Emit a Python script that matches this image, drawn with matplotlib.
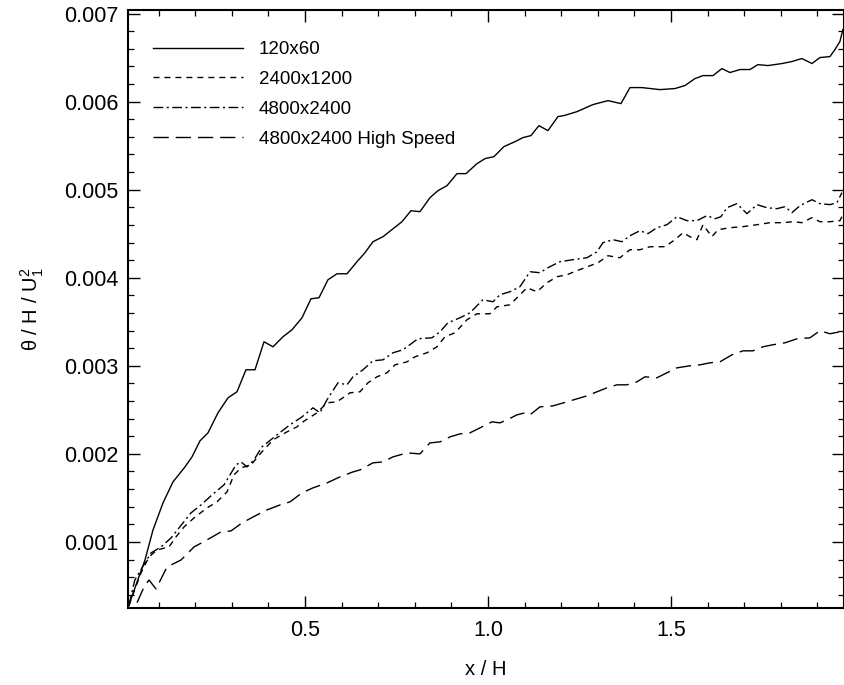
import matplotlib
matplotlib.use("Agg")
import matplotlib.pyplot as plt
from matplotlib.ticker import MultipleLocator, FixedLocator, FormatStrFormatter

plt.rcParams['font.family'] = ['Liberation Sans', 'DejaVu Sans']
plt.rcParams['mathtext.fontset'] = 'custom'
plt.rcParams['mathtext.rm'] = 'Liberation Sans'
plt.rcParams['mathtext.it'] = 'Liberation Sans:italic'

# ---- data ----
x_120 = [0.0172, 0.0402, 0.0628, 0.0847, 0.1120, 0.1393, 0.1721, 0.1913, 0.2131, 0.2350,
         0.2623, 0.2896, 0.3142, 0.3388, 0.3634, 0.3880, 0.4126, 0.4399, 0.4645, 0.4918,
         0.5164, 0.5383, 0.5628, 0.5874, 0.6148, 0.6421, 0.6639, 0.6858, 0.7131, 0.7650,
         0.7896, 0.8142, 0.8415, 0.8634, 0.8880, 0.9153, 0.9399, 0.9699, 0.9918, 1.0164,
         1.0437, 1.0738, 1.0956, 1.1175, 1.1393, 1.1639, 1.1913, 1.2077, 1.2432, 1.2869,
         1.3279, 1.3634, 1.3880, 1.4208, 1.4699, 1.5109, 1.5383, 1.5656, 1.5874, 1.6148,
         1.6393, 1.6612, 1.6885, 1.7158, 1.7377, 1.7650, 1.8033, 1.8306, 1.8579, 1.8852,
         1.9071, 1.9344, 1.9481, 1.9617, 1.9699]
y_120 = [0.000265, 0.000534, 0.000795, 0.001136, 0.001443, 0.001682, 0.001852, 0.001966, 0.002148, 0.002239,
         0.002466, 0.002636, 0.002705, 0.002955, 0.002955, 0.003273, 0.003216, 0.003330, 0.003409, 0.003545,
         0.003761, 0.003773, 0.003977, 0.004045, 0.004045, 0.004182, 0.004284, 0.004409, 0.004466, 0.004636,
         0.004761, 0.004750, 0.004909, 0.004989, 0.005045, 0.005182, 0.005182, 0.005295, 0.005352, 0.005375,
         0.005489, 0.005545, 0.005591, 0.005614, 0.005727, 0.005670, 0.005830, 0.005841, 0.005886, 0.005966,
         0.006011, 0.005977, 0.006159, 0.006159, 0.006136, 0.006148, 0.006182, 0.006261, 0.006295, 0.006295,
         0.006375, 0.006330, 0.006364, 0.006364, 0.006420, 0.006409, 0.006432, 0.006455, 0.006489, 0.006432,
         0.006500, 0.006511, 0.006591, 0.006682, 0.006818]

x_2400 = [0.0191, 0.0273, 0.0519, 0.0738, 0.0956, 0.1284, 0.1475, 0.1694, 0.1967, 0.2322,
          0.2596, 0.2869, 0.3060, 0.3251, 0.3525, 0.3798, 0.4126, 0.4508, 0.4781, 0.4945,
          0.5328, 0.5601, 0.5874, 0.6230, 0.6503, 0.6721, 0.6967, 0.7240, 0.7459, 0.7787,
          0.8005, 0.8333, 0.8607, 0.8825, 0.9098, 0.9426, 0.9699, 1.0055, 1.0246, 1.0601,
          1.0820, 1.1066, 1.1339, 1.1612, 1.1885, 1.2158, 1.2432, 1.2787, 1.3005, 1.3279,
          1.3607, 1.3880, 1.4153, 1.4426, 1.4836, 1.5109, 1.5328, 1.5519, 1.5710, 1.5874,
          1.6120, 1.6284, 1.6612, 1.6967, 1.7350, 1.7705, 1.8060, 1.8333, 1.8579, 1.8852,
          1.9071, 1.9344, 1.9617, 1.9699]
y_2400 = [0.000273, 0.000375, 0.000648, 0.000830, 0.000909, 0.000943, 0.001057, 0.001170, 0.001273, 0.001386,
          0.001455, 0.001568, 0.001761, 0.001841, 0.001875, 0.002011, 0.002159, 0.002250, 0.002307, 0.002364,
          0.002466, 0.002580, 0.002591, 0.002693, 0.002705, 0.002807, 0.002875, 0.002920, 0.003011, 0.003045,
          0.003102, 0.003148, 0.003216, 0.003330, 0.003375, 0.003523, 0.003591, 0.003591, 0.003670, 0.003693,
          0.003784, 0.003886, 0.003841, 0.003943, 0.004011, 0.004034, 0.004080, 0.004136, 0.004170, 0.004250,
          0.004227, 0.004318, 0.004318, 0.004352, 0.004352, 0.004432, 0.004511, 0.004466, 0.004432, 0.004602,
          0.004466, 0.004545, 0.004568, 0.004580, 0.004602, 0.004625, 0.004625, 0.004636, 0.004625, 0.004682,
          0.004636, 0.004636, 0.004648, 0.004716]

x_4800 = [0.0191, 0.0350, 0.0546, 0.0792, 0.1066, 0.1339, 0.1557, 0.1885, 0.2158, 0.2459,
          0.2787, 0.3115, 0.3251, 0.3415, 0.3607, 0.3825, 0.4235, 0.4590, 0.4918, 0.5219,
          0.5410, 0.5601, 0.5902, 0.6148, 0.6311, 0.6585, 0.6858, 0.7131, 0.7404, 0.7678,
          0.8087, 0.8470, 0.8689, 0.8907, 0.9235, 0.9508, 0.9863, 1.0137, 1.0328, 1.0601,
          1.0874, 1.1148, 1.1421, 1.1639, 1.1967, 1.2322, 1.2705, 1.2978, 1.3142, 1.3415,
          1.3661, 1.3880, 1.4153, 1.4372, 1.4617, 1.4891, 1.5164, 1.5437, 1.5710, 1.5984,
          1.6202, 1.6366, 1.6530, 1.6803, 1.7077, 1.7350, 1.7623, 1.7896, 1.8115, 1.8306,
          1.8525, 1.8852, 1.9071, 1.9344, 1.9536, 1.9672]
y_4800 = [0.000284, 0.000568, 0.000705, 0.000875, 0.000943, 0.001045, 0.001159, 0.001330, 0.001420, 0.001534,
          0.001648, 0.001875, 0.001909, 0.001852, 0.001932, 0.002080, 0.002216, 0.002330, 0.002420, 0.002523,
          0.002466, 0.002614, 0.002807, 0.002784, 0.002875, 0.002955, 0.003057, 0.003068, 0.003148, 0.003182,
          0.003307, 0.003318, 0.003386, 0.003489, 0.003545, 0.003602, 0.003750, 0.003727, 0.003807, 0.003841,
          0.003898, 0.004068, 0.004057, 0.004114, 0.004182, 0.004205, 0.004227, 0.004295, 0.004398, 0.004432,
          0.004409, 0.004477, 0.004534, 0.004500, 0.004568, 0.004602, 0.004693, 0.004648, 0.004648, 0.004705,
          0.004670, 0.004693, 0.004795, 0.004841, 0.004727, 0.004830, 0.004795, 0.004784, 0.004807, 0.004739,
          0.004818, 0.004886, 0.004841, 0.004830, 0.004852, 0.004966]

x_hs = [0.0164, 0.0383, 0.0601, 0.0738, 0.0929, 0.1230, 0.1612, 0.1967, 0.2322, 0.2705,
        0.2978, 0.3279, 0.3689, 0.3962, 0.4317, 0.4590, 0.4918, 0.5219, 0.5601, 0.5956,
        0.6311, 0.6503, 0.6858, 0.7131, 0.7404, 0.7787, 0.8142, 0.8415, 0.8689, 0.8962,
        0.9235, 0.9508, 0.9781, 1.0109, 1.0328, 1.0519, 1.0792, 1.1011, 1.1148, 1.1421,
        1.1776, 1.2158, 1.2432, 1.2705, 1.2978, 1.3251, 1.3525, 1.3798, 1.4071, 1.4290,
        1.4617, 1.4781, 1.5164, 1.5519, 1.5792, 1.6066, 1.6339, 1.6667, 1.6967, 1.7240,
        1.7514, 1.7787, 1.8115, 1.8443, 1.8798, 1.9071, 1.9344, 1.9617, 1.9699]
y_hs = [0.000080, 0.000284, 0.000489, 0.000568, 0.000466, 0.000716, 0.000795, 0.000943, 0.001023, 0.001114,
        0.001125, 0.001216, 0.001307, 0.001364, 0.001420, 0.001455, 0.001557, 0.001614, 0.001670, 0.001739,
        0.001795, 0.001818, 0.001898, 0.001909, 0.001966, 0.002011, 0.002000, 0.002125, 0.002136, 0.002193,
        0.002227, 0.002239, 0.002295, 0.002364, 0.002352, 0.002386, 0.002443, 0.002466, 0.002443, 0.002534,
        0.002545, 0.002591, 0.002625, 0.002659, 0.002705, 0.002750, 0.002784, 0.002784, 0.002818, 0.002875,
        0.002864, 0.002898, 0.002977, 0.003000, 0.003011, 0.003034, 0.003045, 0.003125, 0.003170, 0.003170,
        0.003216, 0.003239, 0.003261, 0.003307, 0.003318, 0.003398, 0.003364, 0.003386, 0.003409]

labels = ["120x60", "2400x1200", "4800x2400", "4800x2400 High Speed"]
x_ticks = [0.5, 1.0, 1.5]
y_ticks = [0.001, 0.002, 0.003, 0.004, 0.005, 0.006, 0.007]

# ---- figure ----
W, H = 844, 685
fig = plt.figure(figsize=(W / 100, H / 100), dpi=100)
ax = fig.add_axes([128 / W, (H - 608) / H, (843.5 - 128) / W, (608 - 10) / H])

lw = 1.0
ax.plot(x_120, y_120, color='black', lw=lw, linestyle='-', label=labels[0])
ax.plot(x_2400, y_2400, color='black', lw=lw, linestyle=(0, (4.3, 3.6)), label=labels[1])
ax.plot(x_4800, y_4800, color='black', lw=lw, linestyle=(0, (7, 2.5, 1.5, 2.5)), label=labels[2])
ax.plot(x_hs, y_hs, color='black', lw=lw, linestyle=(0, (11, 5)), label=labels[3])

ax.set_xlim(0.0164, 1.9715)
ax.set_ylim(0.00025, 0.00704)

ax.xaxis.set_major_locator(FixedLocator(x_ticks))
ax.xaxis.set_minor_locator(MultipleLocator(0.1))
ax.yaxis.set_major_locator(FixedLocator(y_ticks))
ax.yaxis.set_minor_locator(MultipleLocator(0.0002))
ax.xaxis.set_major_formatter(FormatStrFormatter('%.1f'))
ax.yaxis.set_major_formatter(FormatStrFormatter('%.3f'))

ax.tick_params(which='both', direction='in', top=True, right=True, colors='black')
ax.tick_params(which='major', length=8.6, width=1.0, labelsize=15.5, pad=7)
ax.tick_params(which='minor', length=4.0, width=0.9)
ax.tick_params(axis='x', which='major', pad=9)
for s in ax.spines.values():
    s.set_linewidth(1.5)

ax.set_xlabel('x / H', fontsize=14.5, labelpad=13)
ax.set_ylabel(r'θ / H / U$_1^2$', fontsize=14.5, labelpad=13)

leg = ax.legend(loc='upper left', bbox_to_anchor=(153 / W, 1 - 41 / H),
                bbox_transform=fig.transFigure, frameon=False, fontsize=13.5,
                handlelength=4.8, handletextpad=0.85, labelspacing=0.68,
                borderpad=0, borderaxespad=0)

fig.savefig('out.png', dpi=100)
